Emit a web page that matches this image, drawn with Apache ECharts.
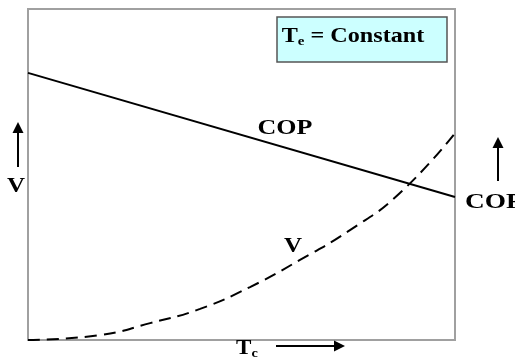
<!DOCTYPE html>
<html>
<head>
<meta charset="utf-8">
<script src="https://cdn.jsdelivr.net/npm/echarts@6/dist/echarts.min.js"></script>
<style>
  html, body { margin: 0; padding: 0; background: #fff; }
  #main { width: 515px; height: 362px; }
</style>
</head>
<body>
<div id="main"></div>
<script>
// Tc runs along x (0..100), values on an arbitrary 0..100 scale
const copX = [0, 100]
const copY = [80.7, 43.2]
const vX = [0, 16.9, 28.6, 40.3, 52.0, 63.7, 75.4, 87.1, 100]
const vY = [0, 1.5, 5.1, 9.4, 16.0, 24.2, 33.2, 44.4, 62.5]

const serif = 'Liberation Serif'
const ink = '#000'

const myChart = echarts.init(document.getElementById('main'))

const arrow = (x1, y1, x2, y2) => {
  const ang = Math.atan2(y2 - y1, x2 - x1)
  const L = 11, W = 5.5
  const bx = x2 - L * Math.cos(ang), by = y2 - L * Math.sin(ang)
  const px = -Math.sin(ang) * W, py = Math.cos(ang) * W
  return [
    { type: 'line', shape: { x1: x1, y1: y1, x2: bx, y2: by }, style: { stroke: ink, lineWidth: 2 } },
    { type: 'polygon', shape: { points: [[x2, y2], [bx + px, by + py], [bx - px, by - py]] }, style: { fill: ink } }
  ]
}

// the source picture is stretched sideways, so labels are widened a little
const label = (text, x, y, size, sx) => ({
  type: 'text', x: x, y: y, scaleX: sx,
  style: { text: text, font: 'bold ' + size + 'px ' + serif, fill: ink, align: 'center', verticalAlign: 'middle' }
})

const subText = (main, sub, rest, x, y, size, sx, align) => ({
  type: 'text', x: x, y: y, scaleX: sx,
  style: {
    text: '{t|' + main + '}{s|' + sub + '}' + (rest ? '{t|' + rest + '}' : ''),
    align: align, verticalAlign: 'middle',
    rich: {
      t: { fontFamily: serif, fontWeight: 'bold', fontSize: size, fill: ink },
      s: { fontFamily: serif, fontWeight: 'bold', fontSize: Math.round(size * 0.6), fill: ink, padding: [Math.round(size * 0.45), 0, 0, 0] }
    }
  }
})

const option = {
  animation: false,
  grid: {
    left: 28, top: 9, right: 60, bottom: 22,
    show: true,
    borderColor: '#a0a0a0',
    borderWidth: 2
  },
  xAxis: {
    type: 'value', min: 0, max: 100,
    axisLine: { show: false }, axisTick: { show: false },
    axisLabel: { show: false }, splitLine: { show: false }
  },
  yAxis: {
    type: 'value', min: 0, max: 100,
    axisLine: { show: false }, axisTick: { show: false },
    axisLabel: { show: false }, splitLine: { show: false }
  },
  series: [
    {
      name: 'COP',
      type: 'line',
      data: copX.map((x, i) => [x, copY[i]]),
      symbol: 'none',
      lineStyle: { color: ink, width: 2 }
    },
    {
      name: 'V',
      type: 'line',
      smooth: true,
      data: vX.map((x, i) => [x, vY[i]]),
      symbol: 'none',
      lineStyle: { color: ink, width: 2, type: [12, 7] }
    }
  ],
  graphic: [
    {
      type: 'rect',
      shape: { x: 277, y: 17, width: 170, height: 45 },
      style: { fill: '#ccffff', stroke: '#555', lineWidth: 1.5 }
    },
    subText('T', 'e', ' = Constant', 353, 37, 21, 1.15, 'center'),
    label('COP', 285, 129, 20, 1.3),
    label('V', 293, 247, 20, 1.25),
    label('V', 16, 187, 20, 1.25),
    {
      type: 'text', x: 465, y: 203, scaleX: 1.3,
      style: { text: 'COP', font: 'bold 21px ' + serif, fill: ink, align: 'left', verticalAlign: 'middle' }
    },
    subText('T', 'c', '', 236, 349, 21, 1.1, 'left'),
    ...arrow(18, 167, 18, 122),
    ...arrow(498, 181, 498, 137),
    ...arrow(276, 346, 345, 346)
  ]
}

option && myChart.setOption(option)

window.addEventListener('resize', function () {
  myChart.resize()
})
</script>
</body>
</html>
